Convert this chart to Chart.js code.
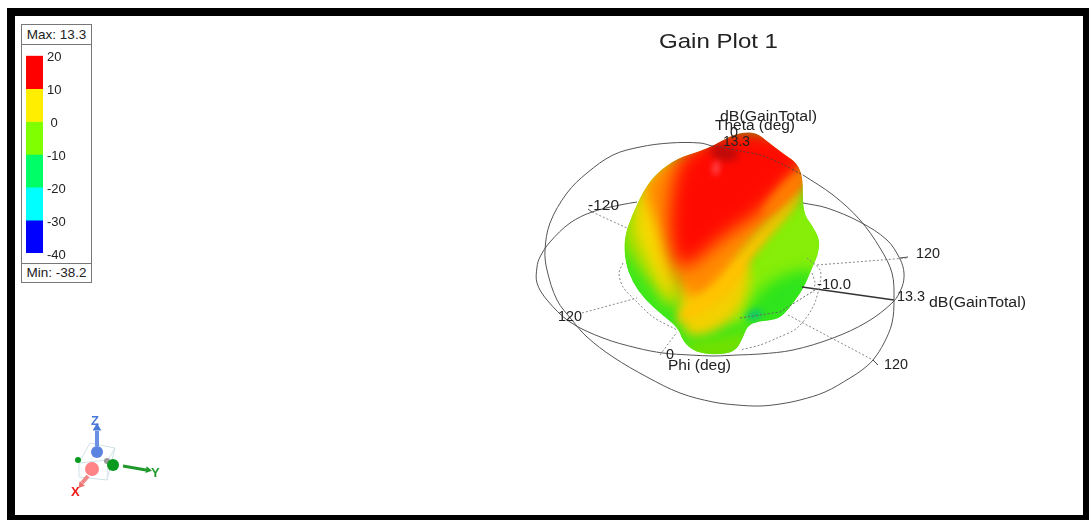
<!DOCTYPE html>
<html>
<head>
<meta charset="utf-8">
<title>Gain Plot 1</title>
<script src="https://cdn.jsdelivr.net/npm/chart.js@4"></script>
<style>
  html, body { margin: 0; padding: 0; background: #fff; overflow: hidden; }
  #page { position: relative; width: 1089px; height: 520px; font-family: "Liberation Sans", Arial, sans-serif; }
  #frameL, #frameT, #frameR, #frameB { position: absolute; background: #000; }
  #frameL { left: 7px; top: 8px; width: 8px; height: 512px; }
  #frameT { left: 7px; top: 8px; width: 1082px; height: 8px; }
  #frameR { left: 1083px; top: 8px; width: 6px; height: 512px; }
  #frameB { left: 7px; top: 515px; width: 1082px; height: 5px; }
  #mainChart { position: absolute; left: 0; top: 0; }
  #legendBox { position: absolute; left: 21px; top: 24px; width: 69px; height: 257px; border: 1px solid #777; background: #fff; }
  .legendRow { position: absolute; left: 0; width: 69px; height: 18px; line-height: 18px; font-size: 13.5px; color: #222; text-align: center; }
  #maxRow { top: 1px; border-bottom: 1px solid #777; }
  #minRow { top: 238px; border-top: 1px solid #777; }
  #legendChart { position: absolute; left: 0px; top: 20px; }
</style>
</head>
<body>
<div id="page">
  <div id="frameL"></div><div id="frameT"></div><div id="frameR"></div><div id="frameB"></div>
  <canvas id="mainChart" width="1089" height="520"></canvas>
  <div id="legendBox">
    <div class="legendRow" id="maxRow">Max: 13.3</div>
    <canvas id="legendChart" width="68" height="217"></canvas>
    <div class="legendRow" id="minRow">Min: -38.2</div>
  </div>
</div>
<script>
// colour bar
const bandRanges = [[10, 20], [0, 10], [-10, 0], [-20, -10], [-30, -20], [-40, -30]];
const bandColors = ['#ff0000', '#ffee00', '#7fff00', '#00ff66', '#00ffff', '#0000ff'];

// polar grid, picture units
const thetaRing = [[712,146],[700,143],[670,143],[640,147],[613,155],[587,173],[567,193],[550,223],[545,250],[547,270],[557,300],[572,320],[587,337],[613,357],[647,377],[680,393],[713,402],[737,405],[760,406],[780,404],[800,400],[825,392],[850,378],[862,370],[873,360],[884,343],[892,323],[894,300],[892,273],[880,248],[860,220],[833,195],[803,175]];
const thetaRingTop = [[712,146],[720,147],[740,151],[760,155],[780,163],[803,175]];
const phiRing = [[637,202],[620,205],[592,212],[570,223],[550,242],[540,257],[537,267],[537,283],[547,300],[570,322],[603,338],[637,348],[663,353],[690,355],[715,356],[737,355],[760,354],[793,350],[833,338],[867,322],[893,302],[902,287],[904,273],[900,259],[887,240],[860,222],[827,208],[803,203]];
const innerRingLeft = [[623,263],[619,273],[623,287],[635,300],[653,317],[677,330]];
const innerRingRight = [[807,258],[820,270],[820,283],[813,307],[797,328],[777,338],[760,345],[740,350]];
const innerArc = [[812,273],[815,283],[813,293]];
const spokeMinus120 = [[592,212],[627,228]];
const spokeLeft120 = [[582,313],[637,298]];
const spokeZero = [[660,355],[677,332]];
const spokeRight120 = [[817,265],[907,258]];
const spokeLower120 = [[788,315],[873,360]];
const spokeCenter = [[740,318],[780,312],[815,290]];
const gainAxis = [[802,287],[894,300]];
const tickLower120 = [[873,360],[878,365]];
const tickRight120 = [[900,258],[908,257]];
const tickMinus120 = [[592,212],[588,209]];

// gain surface
const surfaceOutline = [[715,145],[728,137],[743,132],[757,133],[768,142],[785,155],[797,163],[803,178],[803,213],[812,225],[820,240],[818,255],[812,268],[805,285],[797,298],[782,317],[772,320],[755,322],[747,327],[743,338],[735,352],[715,355],[695,352],[683,342],[678,328],[662,315],[645,300],[632,282],[625,262],[624,238],[632,215],[645,188],[658,172],[678,158],[698,152]];
const limeLeft = [[618,238],[630,205],[650,172],[682,150],[682,318],[660,295],[640,270]];
const yellowLeft = [[632,225],[640,185],[678,160],[672,242],[675,312],[658,282],[643,252]];
const limeRight = [[805,195],[830,238],[825,270],[790,310],[748,322],[722,325],[745,262],[770,225]];
const greenRight = [[822,268],[802,310],[772,328],[742,326],[755,292],[788,272]];
const yellowStem = [[678,278],[715,258],[755,258],[742,315],[700,340],[680,330]];
const warmOrange = [[640,185],[678,150],[782,140],[812,180],[758,238],[725,285],[698,302],[675,285],[665,242],[652,212]];
const redCore = [[672,182],[685,148],[748,122],[818,152],[788,182],[762,212],[725,235],[692,265],[677,268],[668,235]];
const orangeEdge = [[800,165],[810,182],[772,218],[758,212]];
const yellowRidge = [[806,187],[804,197],[758,248],[725,298],[678,325],[677,313],[715,285],[748,242]];
const greenStem = [[680,345],[702,340],[732,335],[750,328],[750,345],[735,362],[690,362]];
const tealSpot = [[742,318],[755,307],[765,313],[755,322]];
const darkPeak = [[708,145],[732,145],[742,158],[722,162],[712,155]];
const paleSpot = [[712,168],[717,158],[720,168],[715,178]];

// axes triad
const triadBox = [[79,463],[90,443],[115,448],[107,480],[79,477],[79,463],[108,460],[115,448]];
const triadBoxEdge = [[108,460],[107,480]];
const zArrow = [[97,446],[97,431]];
const xArrow = [[88,476],[82,483]];
const yArrow = [[123,466],[146,470]];
const zTip = [[97,428]];
const xTip = [[81,485]];
const yTip = [[148,470]];
const zBall = [[97,452]];
const xBall = [[92,469]];
const yBall = [[113,465]];
const yBackBall = [[78,460]];
const originBall = [[107,461]];

// text on the picture
const labelTexts = ['Gain Plot 1', 'dB(GainTotal)', 'Theta (deg)', '0', '13.3', '-120', '120', '120', '-10.0', '13.3', 'dB(GainTotal)', '120', '0', 'Phi (deg)'];
const labelX = [659, 720, 715, 730, 723, 588, 558, 916, 817, 897, 929, 884, 666, 668];
const labelY = [42, 117, 126, 133, 142, 206, 317, 254, 285, 297, 303, 365, 355, 366];
const labelW = [119, 97, 80, 8, 27, 31, 24, 24, 34, 28, 97, 24, 8, 63];
const labelSize = [21, 14, 14, 14, 14, 14, 14, 14, 14, 14, 14, 14, 14, 14];
const axisLetters = ['Z', 'X', 'Y'];
const axisLetterX = [91, 71, 151];
const axisLetterY = [421, 492, 473];
const axisLetterColor = ['#4a78d8', '#f01818', '#1f9a2a'];

function pts(list) {
  return list.map(function (p) { return { x: p[0], y: p[1] }; });
}

function line(list, color, width, dash, tension) {
  return { data: pts(list), showLine: true, borderColor: color, borderWidth: width, borderDash: dash || [], tension: tension || 0, pointRadius: 0, fill: false };
}

function ball(list, color, radius, style, rotation) {
  return { data: pts(list), showLine: false, backgroundColor: color, borderWidth: 0, pointRadius: radius, pointStyle: style || 'circle', rotation: rotation || 0 };
}

function patch(name, list, color, blur) {
  return { label: name, data: pts(list), showLine: false, pointRadius: 0, patchColor: color, patchBlur: blur };
}

const patchSets = [
  patch('outline', surfaceOutline, '#3ce81c', 0),
  patch('limeLeft', limeLeft, '#9fe000', 7),
  patch('yellowLeft', yellowLeft, '#f8d800', 7),
  patch('limeRight', limeRight, '#86ee08', 6),
  patch('greenRight', greenRight, '#2ee41c', 7),
  patch('yellowStem', yellowStem, '#f4d000', 6),
  patch('warmOrange', warmOrange, '#ff8c00', 7),
  patch('redCore', redCore, '#ff0a00', 9),
  patch('orangeEdge', orangeEdge, '#ff7a00', 4),
  patch('yellowRidge', yellowRidge, '#ffc400', 4),
  patch('greenStem', greenStem, '#70e000', 6),
  patch('tealSpot', tealSpot, '#10c868', 3),
  patch('darkPeak', darkPeak, '#b80a0a', 4),
  patch('paleSpot', paleSpot, '#ff5560', 3)
];

function tracePath(ctx, els) {
  const n = els.length;
  ctx.beginPath();
  ctx.moveTo((els[n - 1].x + els[0].x) / 2, (els[n - 1].y + els[0].y) / 2);
  for (let i = 0; i < n; i++) {
    const a = els[i], b = els[(i + 1) % n];
    ctx.quadraticCurveTo(a.x, a.y, (a.x + b.x) / 2, (a.y + b.y) / 2);
  }
  ctx.closePath();
}

const surfacePlugin = {
  id: 'surface',
  beforeDatasetsDraw(chart) {
    const ctx = chart.ctx;
    const sets = chart.data.datasets;
    const metas = [];
    sets.forEach(function (ds, i) {
      if (ds.patchColor) metas.push({ ds: ds, els: chart.getDatasetMeta(i).data });
    });
    ctx.save();
    tracePath(ctx, metas[0].els);
    ctx.clip();
    metas.forEach(function (m) {
      ctx.filter = m.ds.patchBlur ? 'blur(' + m.ds.patchBlur + 'px)' : 'none';
      ctx.fillStyle = m.ds.patchColor;
      tracePath(ctx, m.els);
      ctx.fill();
    });
    ctx.restore();
  }
};

const textPlugin = {
  id: 'pictureText',
  afterDatasetsDraw(chart) {
    const ctx = chart.ctx;
    const sx = chart.scales.x, sy = chart.scales.y;
    ctx.save();
    ctx.textBaseline = 'middle';
    ctx.textAlign = 'left';
    ctx.fillStyle = '#222';
    labelTexts.forEach(function (t, i) {
      ctx.font = labelSize[i] + 'px "Liberation Sans", Arial, sans-serif';
      const w = ctx.measureText(t).width;
      ctx.save();
      ctx.translate(sx.getPixelForValue(labelX[i]), sy.getPixelForValue(labelY[i]));
      ctx.scale(labelW[i] / w, 1);
      ctx.fillText(t, 0, 0);
      ctx.restore();
    });
    ctx.font = 'bold 13px "Liberation Sans", Arial, sans-serif';
    axisLetters.forEach(function (t, i) {
      ctx.fillStyle = axisLetterColor[i];
      ctx.fillText(t, sx.getPixelForValue(axisLetterX[i]), sy.getPixelForValue(axisLetterY[i]));
    });
    ctx.restore();
  }
};

new Chart(document.getElementById('mainChart'), {
  type: 'scatter',
  data: {
    datasets: [
      ball(zTip, '#4a78d8', 5, 'triangle', 0),
      ball(xTip, '#f07070', 4, 'triangle', 220),
      ball(yTip, '#1f9a2a', 4, 'triangle', 100),
      line(zArrow, '#6a90e4', 4),
      line(xArrow, '#f08888', 4),
      line(yArrow, '#1f9a2a', 3),
      ball(yBall, '#0a9a20', 6),
      ball(zBall, '#5a84e0', 6),
      ball(xBall, '#ff8488', 7),
      ball(originBall, '#9a9a9a', 3),
      ball(yBackBall, '#0a9a20', 3),
      line(triadBox, '#cfe2e8', 1),
      line(triadBoxEdge, '#dfeaee', 1),
      line(thetaRingTop, '#5a3a3a', 1, [2, 2], 0.3),
      line(thetaRing, '#555', 1, [], 0.35),
      line(phiRing, '#555', 1, [], 0.35),
      line(innerRingLeft, '#888', 1, [2, 2], 0.3),
      line(innerRingRight, '#888', 1, [2, 2], 0.3),
      line(innerArc, '#888', 1, [2, 2], 0.3),
      line(spokeMinus120, '#888', 1, [2, 2]),
      line(spokeLeft120, '#888', 1, [2, 2]),
      line(spokeZero, '#888', 1, [2, 2]),
      line(spokeRight120, '#888', 1, [2, 2]),
      line(spokeLower120, '#888', 1, [2, 2]),
      line(spokeCenter, '#666', 1, [2, 2]),
      line(gainAxis, '#333', 1.5),
      line(tickLower120, '#444', 1),
      line(tickRight120, '#444', 1),
      line(tickMinus120, '#444', 1)
    ].concat(patchSets)
  },
  options: {
    responsive: false,
    animation: false,
    layout: { padding: 0, autoPadding: false },
    plugins: { legend: { display: false }, tooltip: { enabled: false } },
    scales: {
      x: { type: 'linear', display: false, min: 0, max: 1089 },
      y: { type: 'linear', display: false, min: 0, max: 520, reverse: true }
    }
  },
  plugins: [surfacePlugin, textPlugin]
});

new Chart(document.getElementById('legendChart'), {
  type: 'bar',
  data: {
    labels: ['dB'],
    datasets: bandRanges.map(function (r, i) {
      return { data: [r], backgroundColor: bandColors[i], barPercentage: 1, categoryPercentage: 1, grouped: false };
    })
  },
  options: {
    responsive: false,
    animation: false,
    layout: { padding: { left: 4, top: 10.7, bottom: 9, right: 0 }, autoPadding: false },
    plugins: { legend: { display: false }, tooltip: { enabled: false } },
    scales: {
      x: { display: false },
      y: {
        position: 'right',
        min: -40,
        max: 20,
        afterFit: function (s) { s.width = 47; s.paddingTop = 0; s.paddingBottom = 0; },
        grid: { display: false, drawTicks: false },
        border: { display: false },
        ticks: {
          stepSize: 10,
          padding: 4,
          labelOffset: 2,
          color: '#222',
          font: { size: 13, family: '"Liberation Sans", Arial, sans-serif' },
          callback: function (v) { return v === 0 ? ' 0' : v; }
        }
      }
    }
  }
});
</script>
</body>
</html>
